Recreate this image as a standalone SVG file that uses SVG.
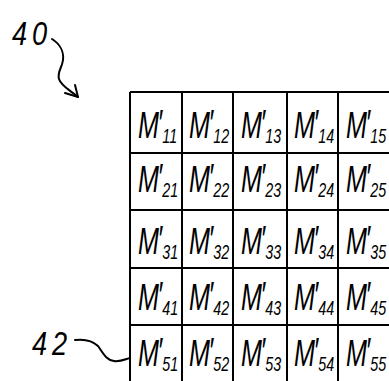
<svg xmlns="http://www.w3.org/2000/svg" width="389" height="381" viewBox="0 0 389 381">
<style>
.grid{stroke:#000;stroke-width:2;fill:none}
.wire{stroke:#000;stroke-width:2;fill:none;stroke-linecap:round;stroke-linejoin:round}
.m{font-family:"Liberation Sans","DejaVu Sans",sans-serif;font-style:italic;font-size:37px;fill:#000}
.p{font-size:37px}
.s{font-size:21px}
.lbl{font-family:"Liberation Sans","DejaVu Sans",sans-serif;font-style:italic;font-size:34px;letter-spacing:6px;fill:#000}
</style>
<rect width="389" height="381" fill="#fff"/>
<g id="grid" class="grid">
<path d="M130,92 H389 M130,153 H389 M130,210 H389 M130,268 H389 M130,325 H389"/>
<path d="M130,92 V381 M182,92 V381 M233,92 V381 M287,92 V381 M338,92 V381"/>
</g>
<g id="connectors" class="wire">
<path d="M52,39 C60,44 64,52 63,60 C62,68 57,72 59,79 C61,86 70,90 78,97"/>
<path d="M65,93 L78,97 L75,85"/>
<path d="M75,340 C84,339 92,340 98,346 C103,353 106,360 114,361 C120,362 126,359 130,358"/>
</g>
<g id="label40"><text class="lbl" transform="translate(12,45) scale(0.8,1)">40</text></g>
<g id="label42"><text class="lbl" transform="translate(32,355) scale(0.8,1)">42</text></g>
<g id="m11"><text class="m" transform="translate(138,138) scale(0.68,1)">M<tspan class="p" dx="-2" dy="-2">′</tspan><tspan class="s" dy="7">11</tspan></text></g>
<g id="m12"><text class="m" transform="translate(189,138) scale(0.68,1)">M<tspan class="p" dx="-2" dy="-2">′</tspan><tspan class="s" dy="7">12</tspan></text></g>
<g id="m13"><text class="m" transform="translate(241,138) scale(0.68,1)">M<tspan class="p" dx="-2" dy="-2">′</tspan><tspan class="s" dy="7">13</tspan></text></g>
<g id="m14"><text class="m" transform="translate(294,138) scale(0.68,1)">M<tspan class="p" dx="-2" dy="-2">′</tspan><tspan class="s" dy="7">14</tspan></text></g>
<g id="m15"><text class="m" transform="translate(346,138) scale(0.68,1)">M<tspan class="p" dx="-2" dy="-2">′</tspan><tspan class="s" dy="7">15</tspan></text></g>
<g id="m21"><text class="m" transform="translate(138,192) scale(0.68,1)">M<tspan class="p" dx="-2" dy="-2">′</tspan><tspan class="s" dy="7">21</tspan></text></g>
<g id="m22"><text class="m" transform="translate(189,192) scale(0.68,1)">M<tspan class="p" dx="-2" dy="-2">′</tspan><tspan class="s" dy="7">22</tspan></text></g>
<g id="m23"><text class="m" transform="translate(241,192) scale(0.68,1)">M<tspan class="p" dx="-2" dy="-2">′</tspan><tspan class="s" dy="7">23</tspan></text></g>
<g id="m24"><text class="m" transform="translate(294,192) scale(0.68,1)">M<tspan class="p" dx="-2" dy="-2">′</tspan><tspan class="s" dy="7">24</tspan></text></g>
<g id="m25"><text class="m" transform="translate(346,192) scale(0.68,1)">M<tspan class="p" dx="-2" dy="-2">′</tspan><tspan class="s" dy="7">25</tspan></text></g>
<g id="m31"><text class="m" transform="translate(138,254) scale(0.68,1)">M<tspan class="p" dx="-2" dy="-2">′</tspan><tspan class="s" dy="7">31</tspan></text></g>
<g id="m32"><text class="m" transform="translate(189,254) scale(0.68,1)">M<tspan class="p" dx="-2" dy="-2">′</tspan><tspan class="s" dy="7">32</tspan></text></g>
<g id="m33"><text class="m" transform="translate(241,254) scale(0.68,1)">M<tspan class="p" dx="-2" dy="-2">′</tspan><tspan class="s" dy="7">33</tspan></text></g>
<g id="m34"><text class="m" transform="translate(294,254) scale(0.68,1)">M<tspan class="p" dx="-2" dy="-2">′</tspan><tspan class="s" dy="7">34</tspan></text></g>
<g id="m35"><text class="m" transform="translate(346,254) scale(0.68,1)">M<tspan class="p" dx="-2" dy="-2">′</tspan><tspan class="s" dy="7">35</tspan></text></g>
<g id="m41"><text class="m" transform="translate(138,310) scale(0.68,1)">M<tspan class="p" dx="-2" dy="-2">′</tspan><tspan class="s" dy="7">41</tspan></text></g>
<g id="m42"><text class="m" transform="translate(189,310) scale(0.68,1)">M<tspan class="p" dx="-2" dy="-2">′</tspan><tspan class="s" dy="7">42</tspan></text></g>
<g id="m43"><text class="m" transform="translate(241,310) scale(0.68,1)">M<tspan class="p" dx="-2" dy="-2">′</tspan><tspan class="s" dy="7">43</tspan></text></g>
<g id="m44"><text class="m" transform="translate(294,310) scale(0.68,1)">M<tspan class="p" dx="-2" dy="-2">′</tspan><tspan class="s" dy="7">44</tspan></text></g>
<g id="m45"><text class="m" transform="translate(346,310) scale(0.68,1)">M<tspan class="p" dx="-2" dy="-2">′</tspan><tspan class="s" dy="7">45</tspan></text></g>
<g id="m51"><text class="m" transform="translate(138,366) scale(0.68,1)">M<tspan class="p" dx="-2" dy="-2">′</tspan><tspan class="s" dy="7">51</tspan></text></g>
<g id="m52"><text class="m" transform="translate(189,366) scale(0.68,1)">M<tspan class="p" dx="-2" dy="-2">′</tspan><tspan class="s" dy="7">52</tspan></text></g>
<g id="m53"><text class="m" transform="translate(241,366) scale(0.68,1)">M<tspan class="p" dx="-2" dy="-2">′</tspan><tspan class="s" dy="7">53</tspan></text></g>
<g id="m54"><text class="m" transform="translate(294,366) scale(0.68,1)">M<tspan class="p" dx="-2" dy="-2">′</tspan><tspan class="s" dy="7">54</tspan></text></g>
<g id="m55"><text class="m" transform="translate(346,366) scale(0.68,1)">M<tspan class="p" dx="-2" dy="-2">′</tspan><tspan class="s" dy="7">55</tspan></text></g>
</svg>
